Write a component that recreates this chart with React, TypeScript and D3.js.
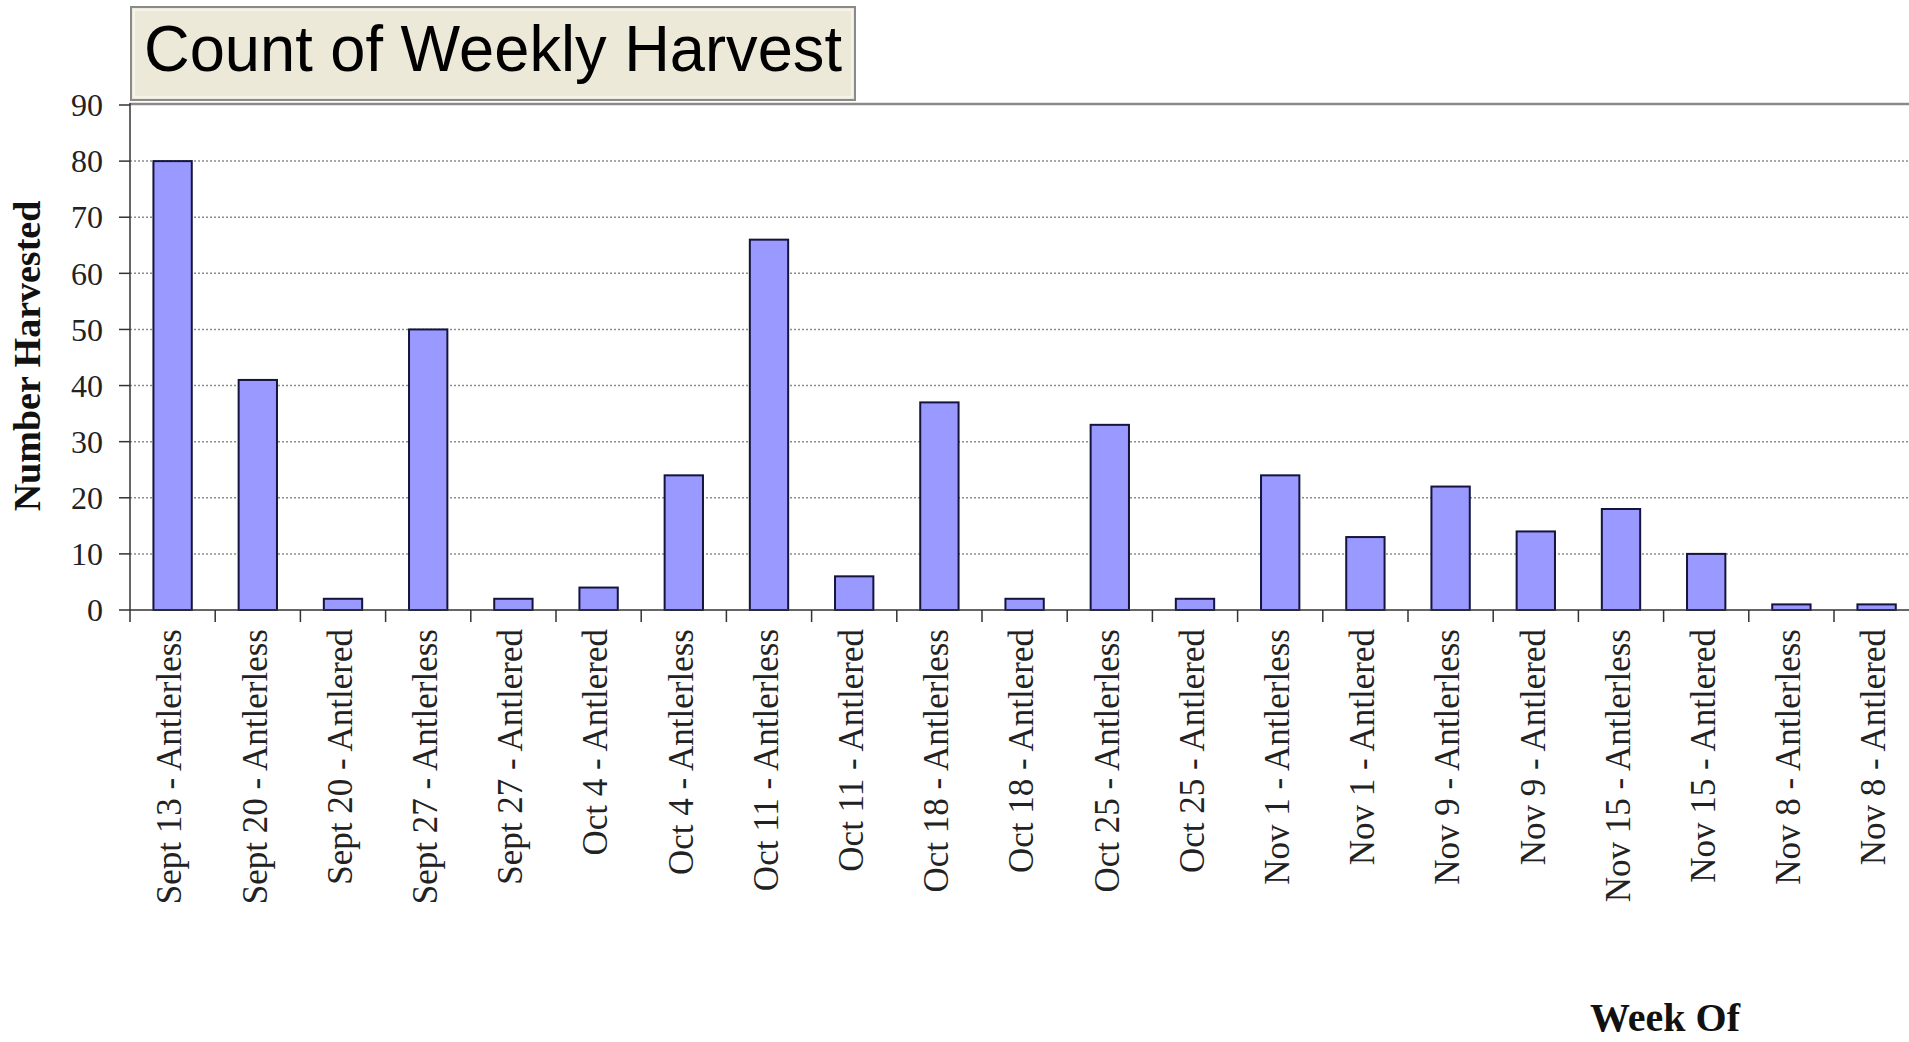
import React, { useEffect, useRef } from "react";
import * as d3 from "d3";

const categories = [
  "Sept 13 - Antlerless",
  "Sept 20 - Antlerless",
  "Sept 20 - Antlered",
  "Sept 27 - Antlerless",
  "Sept 27 - Antlered",
  "Oct 4 - Antlered",
  "Oct 4 - Antlerless",
  "Oct 11 - Antlerless",
  "Oct 11 - Antlered",
  "Oct 18 - Antlerless",
  "Oct 18 - Antlered",
  "Oct 25 - Antlerless",
  "Oct 25 - Antlered",
  "Nov 1 - Antlerless",
  "Nov 1 - Antlered",
  "Nov 9 - Antlerless",
  "Nov 9 - Antlered",
  "Nov 15 - Antlerless",
  "Nov 15 - Antlered",
  "Nov 8 - Antlerless",
  "Nov 8 - Antlered",
];

const harvested = [80, 41, 2, 50, 2, 4, 24, 66, 6, 37, 2, 33, 2, 24, 13, 22, 14, 18, 10, 1, 1];

const yTicks = [0, 10, 20, 30, 40, 50, 60, 70, 80, 90];

const W = 1909;
const H = 1042;
const SERIF = "'Liberation Serif', 'Times New Roman', serif";
const SANS = "'Liberation Sans', Arial, sans-serif";

export default function App() {
  const svgRef = useRef<SVGSVGElement>(null);

  useEffect(() => {
    if (!svgRef.current) return;
    const svg = d3.select(svgRef.current);
    svg.selectAll("*").remove();

    const left = 130;
    const top = 105;
    const bottom = 610;
    const band = 85.2;

    const x = d3
      .scaleBand<string>()
      .domain(categories)
      .range([left, left + band * categories.length])
      .paddingInner(0.55)
      .paddingOuter(0.275);

    const y = d3.scaleLinear().domain([0, 90]).range([bottom, top]);

    svg.append("rect").attr("width", W).attr("height", H).attr("fill", "#ffffff");

    // dotted grid
    svg
      .append("g")
      .selectAll("line")
      .data(yTicks.filter((t) => t > 0 && t < 90))
      .enter()
      .append("line")
      .attr("x1", left)
      .attr("x2", W)
      .attr("y1", (d) => y(d))
      .attr("y2", (d) => y(d))
      .attr("stroke", "#8c8c8c")
      .attr("stroke-width", 1.5)
      .attr("stroke-dasharray", "2,2");

    // bars
    svg
      .append("g")
      .selectAll("rect")
      .data(harvested)
      .enter()
      .append("rect")
      .attr("x", (_, i) => x(categories[i])!)
      .attr("y", (d) => y(d))
      .attr("width", x.bandwidth())
      .attr("height", (d) => bottom - y(d))
      .attr("fill", "#9999ff")
      .attr("stroke", "#14143c")
      .attr("stroke-width", 2);

    // plot top border
    svg
      .append("line")
      .attr("x1", left)
      .attr("x2", W)
      .attr("y1", top - 1)
      .attr("y2", top - 1)
      .attr("stroke", "#8a8a8a")
      .attr("stroke-width", 2.5);

    // y axis
    svg
      .append("line")
      .attr("x1", left)
      .attr("x2", left)
      .attr("y1", top - 2)
      .attr("y2", bottom)
      .attr("stroke", "#333")
      .attr("stroke-width", 1.5);

    const yAxis = svg.append("g");
    yTicks.forEach((t) => {
      yAxis
        .append("line")
        .attr("x1", left - 11)
        .attr("x2", left)
        .attr("y1", y(t))
        .attr("y2", y(t))
        .attr("stroke", "#333")
        .attr("stroke-width", 1.5);
      yAxis
        .append("text")
        .attr("x", left - 27)
        .attr("y", y(t))
        .attr("dy", "0.35em")
        .attr("text-anchor", "end")
        .attr("font-family", SERIF)
        .attr("font-size", 32)
        .attr("fill", "#222")
        .text(t);
    });

    // x axis
    svg
      .append("line")
      .attr("x1", left)
      .attr("x2", W)
      .attr("y1", bottom)
      .attr("y2", bottom)
      .attr("stroke", "#333")
      .attr("stroke-width", 1.5);

    const xAxis = svg.append("g");
    d3.range(categories.length + 1).forEach((i) => {
      const xx = left + i * band;
      xAxis
        .append("line")
        .attr("x1", xx)
        .attr("x2", xx)
        .attr("y1", bottom)
        .attr("y2", bottom + 12)
        .attr("stroke", "#333")
        .attr("stroke-width", 1.5);
    });

    categories.forEach((c) => {
      const cx = x(c)! + x.bandwidth() / 2;
      xAxis
        .append("text")
        .attr("transform", `translate(${cx},629) rotate(-90)`)
        .attr("dy", "0.25em")
        .attr("text-anchor", "end")
        .attr("font-family", SERIF)
        .attr("font-size", 35)
        .attr("fill", "#222")
        .text(c);
    });

    // axis titles
    svg
      .append("text")
      .attr("transform", "translate(27,356) rotate(-90)")
      .attr("dominant-baseline", "central")
      .attr("text-anchor", "middle")
      .attr("font-family", SERIF)
      .attr("font-weight", "bold")
      .attr("font-size", 38)
      .attr("fill", "#111")
      .text("Number Harvested");

    svg
      .append("text")
      .attr("x", 1665)
      .attr("y", 1031)
      .attr("text-anchor", "middle")
      .attr("font-family", SERIF)
      .attr("font-weight", "bold")
      .attr("font-size", 40)
      .attr("fill", "#111")
      .text("Week Of");

    // title box
    const tb = svg.append("g");
    tb.append("rect")
      .attr("x", 131)
      .attr("y", 7)
      .attr("width", 724)
      .attr("height", 93)
      .attr("fill", "#ece9d8")
      .attr("stroke", "#8a8a8a")
      .attr("stroke-width", 2);
    tb.append("rect")
      .attr("x", 134)
      .attr("y", 10)
      .attr("width", 718)
      .attr("height", 87)
      .attr("fill", "none")
      .attr("stroke", "#f7f6ef")
      .attr("stroke-width", 1.5);
    tb.append("text")
      .attr("x", 144)
      .attr("y", 71)
      .attr("font-family", SANS)
      .attr("font-size", 64)
      .attr("textLength", 698)
      .attr("lengthAdjust", "spacingAndGlyphs")
      .attr("fill", "#000")
      .text("Count of Weekly Harvest");
  }, []);

  return (
    <div style={{ position: "absolute", left: 0, top: 0 }}>
      <svg ref={svgRef} width={W} height={H} style={{ display: "block" }} />
    </div>
  );
}
